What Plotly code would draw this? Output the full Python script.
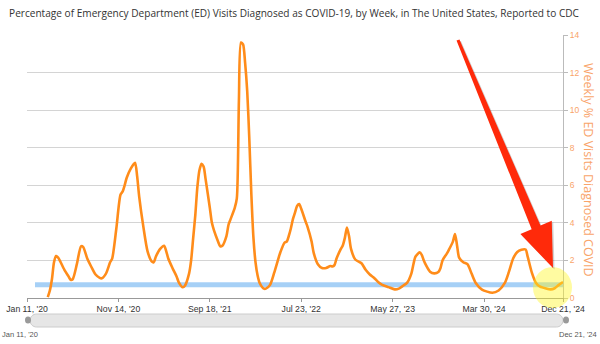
import numpy as np
import pandas as pd
import plotly.graph_objects as go

# ---------------- data ----------------
start_date = "2020-01-11"
end_date = "2024-12-21"
# week offsets (weeks since Jan 11, 2020) and weekly % of ED visits diagnosed as COVID-19
week_idx = [10, 11, 12, 13, 14, 15, 16, 18, 20, 21, 22, 24, 26, 27, 29, 31, 33, 35, 36, 38,
            40, 41, 43, 45, 46, 47, 48, 50, 52, 53, 54, 56, 58, 60, 61, 62, 64, 66, 67, 68,
            70, 72, 73, 75, 76, 78, 79, 80, 81, 82, 83, 84, 85, 86, 88, 89, 90, 92, 93, 94,
            96, 97, 98, 100, 101, 102, 103, 104, 105, 106, 107, 108, 109, 110, 111, 112, 114, 115, 117, 119,
            121, 122, 124, 125, 126, 127, 128, 129, 130, 131, 132, 134, 135, 137, 138, 140, 142, 144, 146, 147,
            148, 149, 151, 152, 153, 154, 155, 156, 158, 161, 163, 165, 167, 169, 171, 174, 177, 179, 181, 183,
            185, 186, 187, 189, 190, 191, 192, 194, 196, 198, 199, 200, 202, 203, 205, 206, 207, 208, 210, 212,
            214, 216, 219, 224, 227, 230, 232, 234, 236, 238, 240, 241, 243, 245, 247, 250, 252, 254, 256, 258]
pct_values = [0.05, 0.4, 1.0, 1.9, 2.23, 2.15, 1.95, 1.5, 1.15, 0.97, 1.0, 1.8, 2.75, 2.72, 2.1, 1.65, 1.25, 1.07, 1.05, 1.3,
              1.9, 2.1, 3.7, 5.5, 5.66, 6.0, 6.4, 6.9, 7.2, 6.5, 5.4, 3.8, 2.5, 1.95, 1.9, 2.2, 2.6, 2.78, 2.5, 2.1,
              1.6, 1.15, 0.85, 0.57, 0.65, 1.3, 2.0, 3.2, 4.4, 5.9, 6.8, 7.15, 7.0, 6.3, 4.8, 4.0, 3.6, 3.0, 2.75, 2.78,
              3.3, 3.9, 4.2, 4.8, 5.3, 10.5, 13.6, 13.5, 12.5, 11.0, 8.5, 5.5, 3.2, 1.9, 1.2, 0.8, 0.5, 0.5, 0.7, 1.35,
              2.1, 2.45, 2.95, 3.0, 3.3, 3.7, 4.2, 4.55, 4.9, 5.0, 4.75, 4.1, 3.8, 3.0, 2.4, 1.8, 1.6, 1.6, 1.7, 1.68,
              1.75, 2.1, 2.6, 2.8, 3.2, 3.75, 3.3, 2.6, 2.05, 1.85, 1.5, 1.25, 1.08, 0.85, 0.7, 0.58, 0.46, 0.5, 0.65, 0.82,
              1.3, 1.8, 2.2, 2.43, 2.3, 2.0, 1.76, 1.4, 1.31, 1.38, 1.58, 2.0, 2.35, 2.55, 3.0, 3.4, 2.8, 2.15, 1.9, 1.8,
              1.3, 0.8, 0.45, 0.28, 0.4, 0.8, 1.4, 2.1, 2.45, 2.57, 2.58, 2.2, 1.35, 0.8, 0.6, 0.5, 0.46, 0.52, 0.7, 0.85]
current_level = 0.7
tick_weeks = [0, 44, 88, 132, 176, 220, 258]
tick_labels = ["Jan 11, '20", "Nov 14, '20", "Sep 18, '21", "Jul 23, '22", "May 27, '23", "Mar 30, '24", "Dec 21, '24"]
y_ticks = [0, 2, 4, 6, 8, 10, 12, 14]

start = pd.Timestamp(start_date)
dates = start + pd.to_timedelta(np.array(week_idx) * 7, unit="D")
tick_dates = start + pd.to_timedelta(np.array(tick_weeks) * 7, unit="D")

# ---------------- layout geometry ----------------
W, H = 600, 344
L, R, T, B = 27, 37, 35, 46
PW, PH = W - L - R, H - T - B


def px(x):
    return (x - L) / PW


def py(y):
    return (H - B - y) / PH


ORANGE = "#ff8c1a"
AXIS_ORANGE = "#f9a46a"

fig = go.Figure()

fig.add_trace(go.Scatter(
    x=dates, y=pct_values, mode="lines",
    line=dict(color=ORANGE, width=2.6, shape="spline", smoothing=0.7),
    hoverinfo="x+y", showlegend=False,
))

shapes = []
# current level reference line (light blue)
shapes.append(dict(type="line", xref="paper", yref="y", x0=px(35), x1=1.0,
                   y0=current_level, y1=current_level,
                   line=dict(color="rgba(150,200,245,0.85)", width=5), layer="below"))
# yellow highlight circle
shapes.append(dict(type="circle", xref="paper", yref="paper",
                   x0=px(533), x1=px(572), y0=py(308), y1=py(267),
                   fillcolor="rgba(255,245,30,0.42)", line=dict(width=0), layer="above"))

# red arrow polygon
tail = np.array([458.0, 40.0])
tip = np.array([553.0, 268.0])
d = tip - tail
length = np.hypot(*d)
u = d / length
n = np.array([u[1], -u[0]])
head_len, head_half = 44.0, 17.0
w_tail, w_base = 1.6, 4.8
base = tip - u * head_len
pts = [tail + n * w_tail, base + n * w_base, base + n * head_half, tip,
       base - n * head_half, base - n * w_base, tail - n * w_tail]


def poly_path(points, dx=0.0, dy=0.0):
    s = ""
    for i, p in enumerate(points):
        s += ("M" if i == 0 else "L") + f"{px(p[0] + dx):.5f},{py(p[1] + dy):.5f} "
    return s + "Z"


shapes.append(dict(type="path", xref="paper", yref="paper", path=poly_path(pts, 1.5, 1.5),
                   fillcolor="rgba(0,0,0,0.18)", line=dict(width=0)))
shapes.append(dict(type="path", xref="paper", yref="paper", path=poly_path(pts),
                   fillcolor="#ff2a0a", line=dict(width=0)))

# range-slider-like bar with rounded ends (cubic approximations of semicircles)
bx0, bx1, by0, by1 = 30.0, 563.0, 314.0, 327.0
r = (by1 - by0) / 2
k = 0.5523 * r
ym = (by0 + by1) / 2
bar_path = (
    f"M{px(bx0 + r):.5f},{py(by0):.5f} L{px(bx1 - r):.5f},{py(by0):.5f} "
    f"C{px(bx1 - r + k):.5f},{py(by0):.5f} {px(bx1):.5f},{py(ym - k):.5f} {px(bx1):.5f},{py(ym):.5f} "
    f"C{px(bx1):.5f},{py(ym + k):.5f} {px(bx1 - r + k):.5f},{py(by1):.5f} {px(bx1 - r):.5f},{py(by1):.5f} "
    f"L{px(bx0 + r):.5f},{py(by1):.5f} "
    f"C{px(bx0 + r - k):.5f},{py(by1):.5f} {px(bx0):.5f},{py(ym + k):.5f} {px(bx0):.5f},{py(ym):.5f} "
    f"C{px(bx0):.5f},{py(ym - k):.5f} {px(bx0 + r - k):.5f},{py(by0):.5f} {px(bx0 + r):.5f},{py(by0):.5f} Z"
)
shapes.append(dict(type="path", xref="paper", yref="paper", path=bar_path,
                   fillcolor="#e6e6e6", line=dict(color="#cccccc", width=1)))
shapes.append(dict(type="circle", xref="paper", yref="paper", x0=px(25), x1=px(31),
                   y0=py(323.5), y1=py(316.5), fillcolor="#9a9a9a", line=dict(width=0)))
shapes.append(dict(type="circle", xref="paper", yref="paper", x0=px(563), x1=px(569),
                   y0=py(323.5), y1=py(316.5), fillcolor="#9a9a9a", line=dict(width=0)))

annotations = [
    dict(text="Weekly % ED Visits Diagnosed COVID", xref="paper", yref="paper",
         x=px(589), y=py(170), xanchor="center", yanchor="middle", showarrow=False, textangle=90,
         font=dict(family="Open Sans", size=12.5, color=AXIS_ORANGE)),
    dict(text=tick_labels[0], xref="paper", yref="paper", x=px(0), y=py(334),
         xanchor="left", yanchor="middle",
         showarrow=False, font=dict(family="Liberation Sans", size=7.5, color="#555")),
    dict(text=tick_labels[-1], xref="paper", yref="paper", x=px(599), y=py(334),
         xanchor="right", yanchor="middle",
         showarrow=False, font=dict(family="Liberation Sans", size=7.5, color="#555")),
]

fig.update_layout(
    width=W, height=H,
    margin=dict(l=L, r=R, t=T, b=B, pad=0, autoexpand=False),
    paper_bgcolor="white", plot_bgcolor="white",
    title=dict(text="Percentage of Emergency Department (ED) Visits Diagnosed as COVID-19, by Week, in The United States, Reported to CDC",
               x=0.49, xanchor="center", y=0.962, yanchor="middle",
               font=dict(family="Open Sans", size=10.1, color="#333")),
    xaxis=dict(range=[start, pd.Timestamp(end_date)], tickvals=tick_dates, ticktext=tick_labels,
               showgrid=False, showline=True, linecolor="#999", linewidth=1, automargin=False,
               ticks="outside", ticklen=3, tickcolor="#999",
               tickfont=dict(family="Liberation Sans", size=8.7, color="#333"), zeroline=False),
    yaxis=dict(side="right", range=[0, 14], tickvals=y_ticks, showgrid=True, automargin=False,
               gridcolor="#d4d4d4", gridwidth=1, showline=True, linecolor="#bbb",
               ticks="outside", ticklen=4, tickcolor="#bbb", zeroline=False,
               tickfont=dict(family="Liberation Sans", size=8.5, color=AXIS_ORANGE)),
    shapes=shapes, annotations=annotations,
)

fig.write_html("out.html")
